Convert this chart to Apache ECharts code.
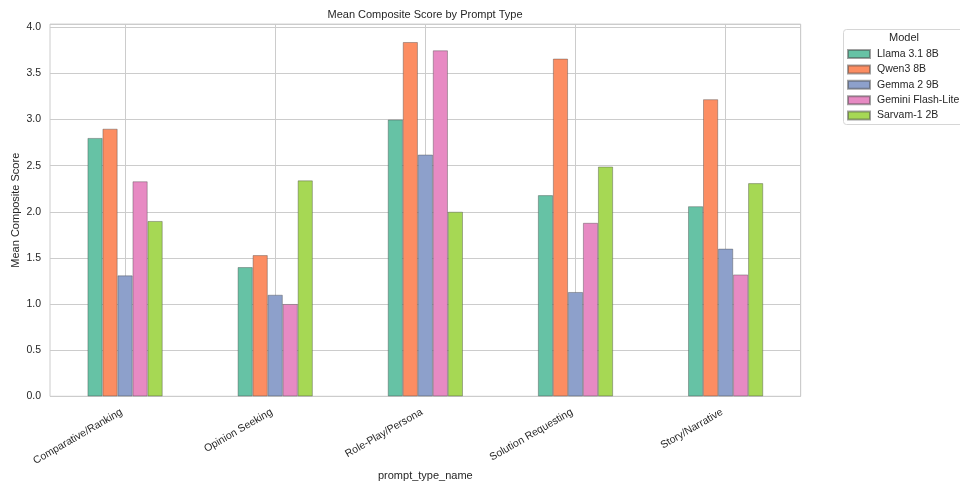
<!DOCTYPE html>
<html>
<head>
<meta charset="utf-8">
<script src="https://cdn.jsdelivr.net/npm/echarts@6/dist/echarts.min.js"></script>
<style>html,body{margin:0;padding:0;background:#fff}#c{width:960px;height:484px}</style>
</head>
<body>
<div id="c"></div>
<script>
const categories = ['Comparative/Ranking', 'Opinion Seeking', 'Role-Play/Persona', 'Solution Requesting', 'Story/Narrative'];
const models = ['Llama 3.1 8B', 'Qwen3 8B', 'Gemma 2 9B', 'Gemini Flash-Lite', 'Sarvam-1 2B'];
const llama = [2.80, 1.40, 3.00, 2.18, 2.06];
const qwen = [2.90, 1.53, 3.84, 3.66, 3.22];
const gemma = [1.31, 1.10, 2.62, 1.13, 1.60];
const gemini = [2.33, 1.00, 3.75, 1.88, 1.32];
const sarvam = [1.90, 2.34, 2.00, 2.49, 2.31];
const yTicks = [0, 0.5, 1, 1.5, 2, 2.5, 3, 3.5, 4];

const seriesValues = [llama, qwen, gemma, gemini, sarvam];
const colors = ['#66c2a5', '#fc8d62', '#8da0cb', '#e78ac3', '#a6d854'];
const FONT = '"Liberation Sans", Arial, sans-serif';
const TXT = '#262626';

const chart = echarts.init(document.getElementById('c'), null, {renderer: 'canvas'});
const halfSlots = [];
categories.forEach(c => { halfSlots.push(c + '_a'); halfSlots.push(c + '_b'); });

chart.setOption({
  animation: false,
  backgroundColor: '#fff',
  title: [
    {text: 'Mean Composite Score by Prompt Type', left: 425, top: 9, textAlign: 'center', padding: 0,
     textStyle: {fontFamily: FONT, fontSize: 11, fontWeight: 'normal', color: TXT}},
    {text: 'Model', left: 904, top: 32, textAlign: 'center', padding: 0,
     textStyle: {fontFamily: FONT, fontSize: 11, fontWeight: 'normal', color: TXT}}
  ],
  graphic: [{
    type: 'rect', left: 843, top: 29, z: 0, silent: true,
    shape: {width: 130, height: 95, r: 3},
    style: {fill: '#fff', stroke: '#d6d6d6', lineWidth: 1}
  }],
  legend: {
    data: models, orient: 'vertical', left: 847, top: 48, padding: 0,
    itemWidth: 22, itemHeight: 8, itemGap: 3.4, icon: 'rect',
    textStyle: {fontFamily: FONT, fontSize: 10.5, color: TXT, lineHeight: 12, padding: [0, 0, 0, 2]}
  },
  grid: {left: 50, right: 159.3, top: 24.1, bottom: 87.7, show: true, borderColor: '#cccccc', borderWidth: 1,
         containLabel: false, outerBoundsMode: 'none'},
  xAxis: [{
    type: 'category', data: categories, position: 'bottom',
    axisLine: {show: false}, axisTick: {show: false},
    axisLabel: {rotate: 30, margin: 13, padding: [0, 4, 0, 0], fontFamily: FONT, fontSize: 10.5, color: TXT, interval: 0},
    splitLine: {show: false},
    name: 'prompt_type_name', nameLocation: 'middle', nameGap: 74, nameMoveOverlap: false,
    nameTextStyle: {fontFamily: FONT, fontSize: 11, color: TXT}
  }, {
    type: 'category', data: halfSlots, position: 'top',
    axisLine: {show: false}, axisTick: {show: false}, axisLabel: {show: false},
    splitLine: {show: true, interval: (i) => i % 2 === 1, lineStyle: {color: '#cccccc', width: 1}}
  }],
  yAxis: {
    type: 'value', min: 0, max: 4.035, interval: 0.5,
    axisLine: {show: false}, axisTick: {show: false},
    axisLabel: {showMaxLabel: false, margin: 9, fontFamily: FONT, fontSize: 10.5, color: TXT,
      formatter: v => yTicks.indexOf(v) >= 0 ? v.toFixed(1) : ''},
    splitLine: {lineStyle: {color: '#cccccc', width: 1}},
    name: 'Mean Composite Score', nameLocation: 'middle', nameGap: 29, nameRotate: 90, nameMoveOverlap: false,
    nameTextStyle: {fontFamily: FONT, fontSize: 11, color: TXT}
  },
  series: models.map((m, i) => ({
    name: m, type: 'bar', data: seriesValues[i], xAxisIndex: 0,
    barCategoryGap: '50%', barGap: '0%', z: 3,
    itemStyle: {color: colors[i], borderColor: 'rgba(70,70,70,0.5)', borderWidth: 0.8}
  }))
});
</script>
</body>
</html>
